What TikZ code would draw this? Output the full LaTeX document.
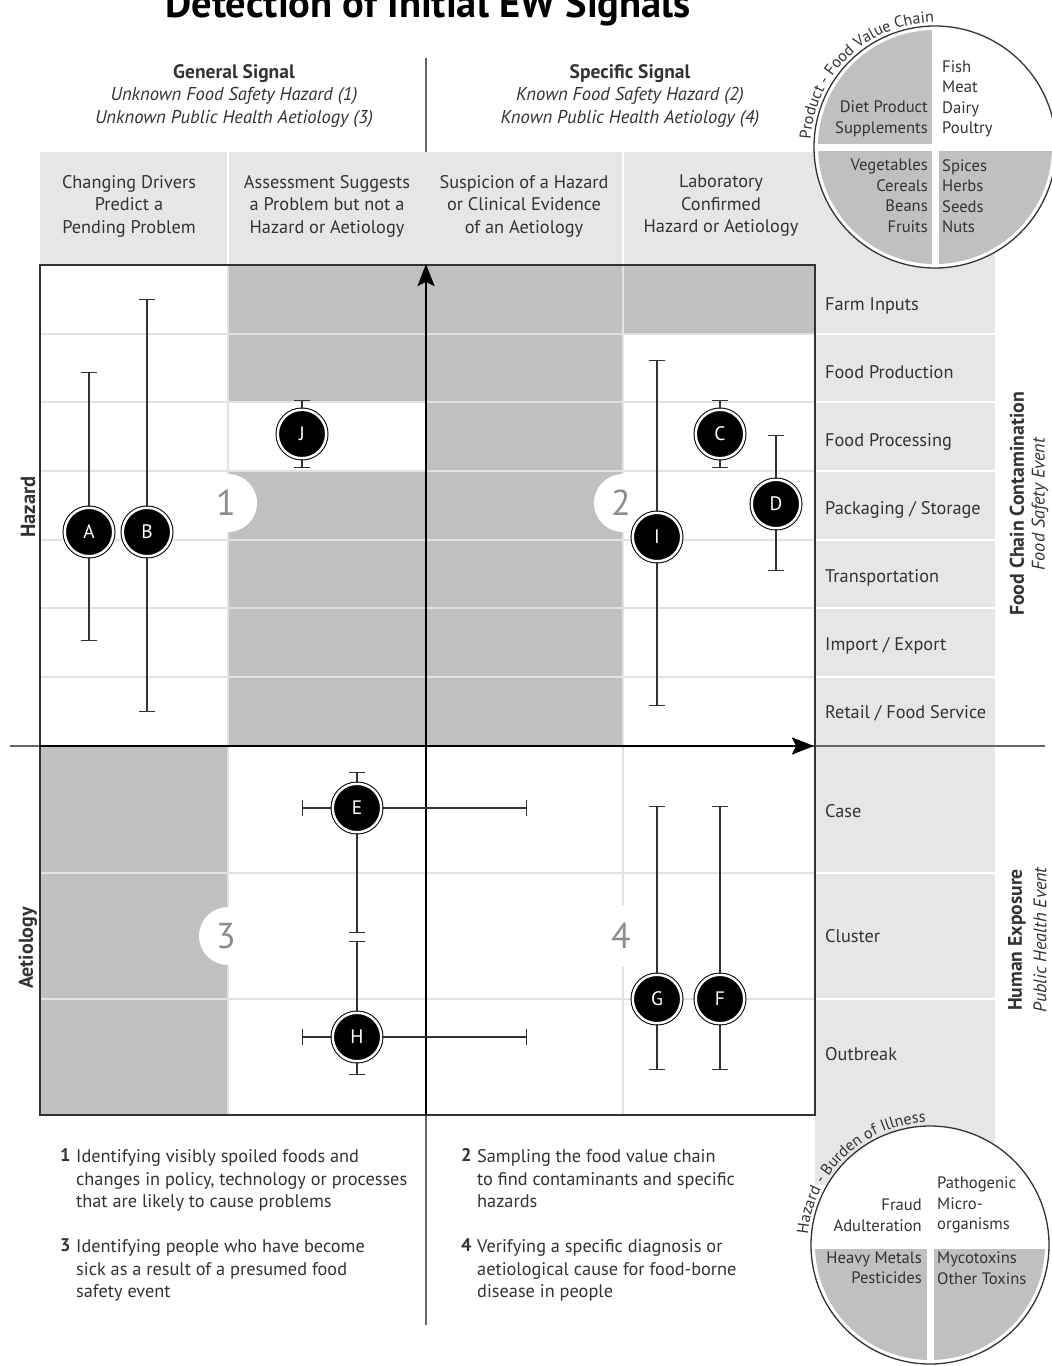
\documentclass[tikz,border=0pt]{standalone}
\usepackage{fontspec}
\setmainfont{PT Sans}
\usetikzlibrary{arrows.meta,decorations.text}
\definecolor{txt}{HTML}{333333}
\definecolor{lgray}{HTML}{E6E6E6}
\definecolor{mgray}{HTML}{C0C0C0}
\definecolor{numgray}{HTML}{8C8C8C}
\definecolor{gline}{HTML}{E2E2E2}
\definecolor{tline}{HTML}{666666}
\begin{document}
\begin{tikzpicture}[x=1pt,y=-1pt,
  lbl/.style={font=\fontsize{18.3}{22.5}\selectfont, text=txt, inner sep=0pt},
  hdr/.style={lbl, align=center},
  rowlbl/.style={lbl, anchor=base west},
  para/.style={lbl, align=left, anchor=north west},
  numb/.style={lbl, font=\fontsize{18.3}{22.5}\selectfont\bfseries, anchor=base west},
  side/.style={inner sep=0pt, text=txt, rotate=90},
  circtxt/.style={inner sep=0pt, text=txt, font=\fontsize{16.6}{20.5}\selectfont},
  big/.style={inner sep=0pt, text=numgray, font=\fontsize{36}{36}\selectfont},
  mk/.style={circle, fill=black, draw=black, line width=1pt, double=white, double distance=2.5pt, minimum size=48.5pt, inner sep=0pt, text=white, font=\fontsize{19.5}{19.5}\selectfont},
  bar/.style={line width=1.3pt, draw=txt},
  capend/.style={bar, -{Bar[width=16pt]}},
  capstart/.style={bar, {Bar[width=16pt]}-},
  gridl/.style={draw=gline, line width=2pt},
  whitel/.style={draw=white, line width=2.5pt},
  thinl/.style={draw=tline, line width=1.1pt},
  axis/.style={draw=black, line width=2.5pt, -{Stealth[length=22pt,width=17pt,inset=4pt]}},
  boxl/.style={draw=txt, line width=2pt},
]
\useasboundingbox (0,0) rectangle (1052,1366);
\fill[white] (0,0) rectangle (1052,1366);

% title
\node[inner sep=0pt, anchor=base, font=\fontsize{40.5}{40.5}\selectfont\bfseries] (title) at (428,17) {Detection of Initial EW Signals};

% thin centre line
\coordinate (vtop) at (426,58);
\coordinate (vbot) at (426,1325);
\draw[thinl] (vtop) -- (vbot);

% light gray bands
\fill[lgray] (40,152) rectangle (995,265);
\fill[lgray] (815,265) rectangle (995,1185);
\draw[whitel] (228,152) -- (228,265);
\draw[whitel] (623,152) -- (623,265);

% medium gray shading
\fill[mgray] (228,265) rectangle (426,402);
\fill[mgray] (228,471) rectangle (426,746);
\fill[mgray] (426,265) rectangle (623,746);
\fill[mgray] (623,265) rectangle (815,334);
\fill[mgray] (40,746) rectangle (228,1115);

% grid lines
\foreach \yy in {334,402,471,540,608,677,873,999} {
  \draw[gridl] (40,\yy) -- (815,\yy);
  \draw[whitel] (815,\yy) -- (995,\yy);
}
\draw[gridl] (228,265) -- (228,1115);
\draw[gridl] (623,265) -- (623,1115);

% quadrant number bumps
\fill[white] (228,503) circle[radius=29pt];
\fill[white] (623,503) circle[radius=29pt];
\fill[white] (228,936) circle[radius=29pt];
\fill[white] (623,936) circle[radius=31pt];
\node[big] (n1) at (226,503) {1};
\node[big] (n2) at (621,503) {2};
\node[big] (n3) at (226,936) {3};
\node[big] (n4) at (621,936) {4};

% box and axes
\coordinate (hL) at (10,746);
\coordinate (hR) at (1045,746);
\draw[thinl] (hL) -- (hR);
\draw[boxl] (40,265) rectangle (815,1115);
\coordinate (yaxB) at (426,1115);
\coordinate (yaxT) at (426,264);
\draw[axis] (yaxB) -- (yaxT);
\coordinate (xaxL) at (40,746);
\coordinate (xaxR) at (814,746);
\draw[axis] (xaxL) -- (xaxR);

% markers
\node[mk] (A) at (89,532) {A};
\node[mk] (B) at (147,532) {B};
\node[mk] (J) at (302,434) {J};
\node[mk] (C) at (720,434) {C};
\node[mk] (D) at (776,504) {D};
\node[mk] (I) at (657,537) {I};
\node[mk] (E) at (357,808) {E};
\node[mk] (H) at (357,1037) {H};
\node[mk] (G) at (657,999) {G};
\node[mk] (F) at (720,999) {F};

% error bar ends
\coordinate (At) at (89,372);  \coordinate (Ab) at (89,641);
\coordinate (Bt) at (147,299); \coordinate (Bb) at (147,712);
\coordinate (Jt) at (302,400); \coordinate (Jb) at (302,468);
\coordinate (Ct) at (720,400); \coordinate (Cb) at (720,468);
\coordinate (Dt) at (776,435); \coordinate (Db) at (776,571);
\coordinate (It) at (657,360); \coordinate (Ib) at (657,706);
\coordinate (Gt) at (657,806); \coordinate (Gb) at (657,1070);
\coordinate (Ft) at (720,806); \coordinate (Fb) at (720,1070);
\coordinate (Et) at (357,772); \coordinate (El) at (302,808); \coordinate (Er) at (527,808);
\coordinate (Ebrk) at (357,933); \coordinate (Hbrk) at (357,941);
\coordinate (Hb) at (357,1075); \coordinate (Hl) at (302,1037); \coordinate (Hr) at (527,1037);

\foreach \m in {A,B,J,C,D,I,G,F} {
  \draw[capend] (\m.north) -- (\m t);
  \draw[capend] (\m.south) -- (\m b);
}
\draw[capend] (E.north) -- (Et);
\draw[capend] (E.west) -- (El);
\draw[capend] (E.east) -- (Er);
\draw[capend] (E.south) -- (Ebrk);
\draw[capstart] (Hbrk) -- (H.north);
\draw[capend] (H.south) -- (Hb);
\draw[capend] (H.west) -- (Hl);
\draw[capend] (H.east) -- (Hr);

% top signal headings
\node[hdr, font=\fontsize{18.6}{22.5}\selectfont] (gs) at (234,96) {{\fontsize{19.5}{22.5}\selectfont\bfseries General Signal}\\\textit{Unknown Food Safety Hazard (1)}\\\textit{Unknown Public Health Aetiology (3)}};
\node[hdr, font=\fontsize{18.6}{22.5}\selectfont] (ss) at (630,96) {{\fontsize{19.5}{22.5}\selectfont\bfseries Specific Signal}\\\textit{Known Food Safety Hazard (2)}\\\textit{Known Public Health Aetiology (4)}};

% column headers
\node[hdr] (h1) at (129,206) {Changing Drivers\\Predict a\\Pending Problem};
\node[hdr] (h2) at (327,206) {Assessment Suggests\\a Problem but not a\\Hazard or Aetiology};
\node[hdr] (h3) at (524,206) {Suspicion of a Hazard\\or Clinical Evidence\\of an Aetiology};
\node[hdr] (h4) at (721,206) {Laboratory\\Confirmed\\Hazard or Aetiology};

% row labels
\node[rowlbl] (r1) at (825,310.5) {Farm Inputs};
\node[rowlbl] (r2) at (825,378.5) {Food Production};
\node[rowlbl] (r3) at (825,446.5) {Food Processing};
\node[rowlbl] (r4) at (825,514.5) {Packaging / Storage};
\node[rowlbl] (r5) at (825,582.5) {Transportation};
\node[rowlbl] (r6) at (825,650.5) {Import / Export};
\node[rowlbl] (r7) at (825,718.5) {Retail / Food Service};
\node[rowlbl] (r8) at (825,817.5) {Case};
\node[rowlbl] (r9) at (825,942.5) {Cluster};
\node[rowlbl] (r10) at (825,1060.5) {Outbreak};

% side labels
\node[side, font=\fontsize{19.8}{19.8}\selectfont\bfseries] (fcc) at (1017,504) {Food Chain Contamination};
\node[side, font=\fontsize{18.2}{18.2}\selectfont\itshape] (fse) at (1040,504) {Food Safety Event};
\node[side, font=\fontsize{19.6}{19.6}\selectfont\bfseries] (hex) at (1017,940) {Human Exposure};
\node[side, font=\fontsize{18.2}{18.2}\selectfont\itshape] (phe) at (1040,940) {Public Health Event};
\node[side, font=\fontsize{20.5}{20.5}\selectfont\bfseries] (haz) at (28,507) {Hazard};
\node[side, font=\fontsize{20}{20}\selectfont\bfseries] (aet) at (28,948) {Aetiology};

% bottom explanations
\node[numb] (b1) at (60,1161.5) {1};
\node[para] (p1) at (76,1149.5) {Identifying visibly spoiled foods and\\changes in policy, technology or processes\\that are likely to cause problems};
\node[numb] (b3) at (60,1251.5) {3};
\node[para] (p3) at (76,1239.5) {Identifying people who have become\\sick as a result of a presumed food\\safety event};
\node[numb] (b2) at (461,1161.5) {2};
\node[para] (p2) at (477,1149.5) {Sampling the food value chain\\to find contaminants and specific\\hazards};
\node[numb] (b4) at (461,1251.5) {4};
\node[para] (p4) at (477,1239.5) {Verifying a specific diagnosis or\\aetiological cause for food-borne\\disease in people};

% top circle
\begin{scope}[shift={(935,147)}, y=1pt]
  \fill[white] (0,0) circle[radius=121pt];
  \begin{scope}
    \clip (0,0) circle[radius=117pt];
    \fill[mgray] (-130,3.5) rectangle (-3.5,130);
    \fill[mgray] (-130,-130) rectangle (-3.5,-3.5);
    \fill[mgray] (3.5,-130) rectangle (130,-3.5);
  \end{scope}
  \draw[line width=1.3pt, draw=txt] (0,0) circle[radius=121pt];
  \path[decorate, decoration={text along path, text color=txt, text align=center,
     text={|\fontsize{16}{16}\selectfont|Product - Food Value Chain}}]
     (177:124.5pt) arc[start angle=177, end angle=90, radius=124.5pt];
\end{scope}
\node[circtxt, align=right, anchor=east] (c1) at (928,119) {Diet Product\\Supplements};
\node[circtxt, align=left, anchor=west] (c2) at (942,99) {Fish\\Meat\\Dairy\\Poultry};
\node[circtxt, align=right, anchor=east] (c3) at (928,196) {Vegetables\\Cereals\\Beans\\Fruits};
\node[circtxt, align=left, anchor=west] (c4) at (942,196) {Spices\\Herbs\\Seeds\\Nuts};

% bottom circle
\begin{scope}[shift={(930,1245)}, y=1pt]
  \fill[white] (0,0) circle[radius=119pt];
  \begin{scope}
    \clip (0,0) circle[radius=115pt];
    \fill[mgray] (-130,-130) rectangle (-3.5,-3.5);
    \fill[mgray] (3.5,-130) rectangle (130,-3.5);
  \end{scope}
  \draw[line width=1.3pt, draw=txt] (0,0) circle[radius=119pt];
  \path[decorate, decoration={text along path, text color=txt, text align=center,
     text={|\fontsize{16}{16}\selectfont|Hazard - Burden of Illness}}]
     (177:122.5pt) arc[start angle=177, end angle=90, radius=122.5pt];
\end{scope}
\node[circtxt, align=right, anchor=east] (d1) at (922,1215.5) {Fraud\\Adulteration};
\node[circtxt, align=left, anchor=west] (d2) at (937,1205) {Pathogenic\\Micro-\\organisms};
\node[circtxt, align=right, anchor=east] (d3) at (922,1268) {Heavy Metals\\Pesticides};
\node[circtxt, align=left, anchor=west] (d4) at (937,1268) {Mycotoxins\\Other Toxins};
\end{tikzpicture}
\end{document}
